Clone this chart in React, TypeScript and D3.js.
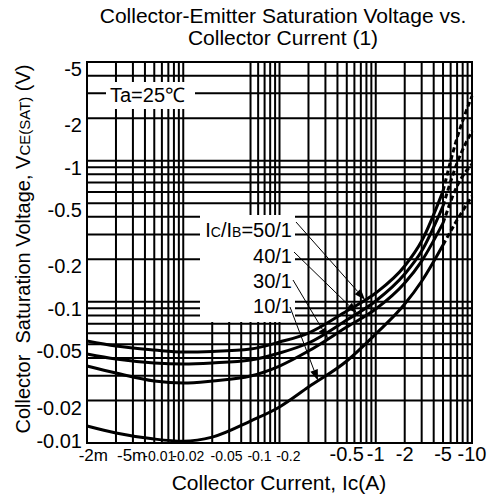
import React, { useEffect, useRef } from "react";
import * as d3 from "d3";

// collector current |Ic| (A) and |Vce(sat)| (V) per Ic/Ib ratio
const currents = [0.001, 0.002, 0.005, 0.01, 0.02, 0.05, 0.1, 0.2, 0.5, 1, 2, 3, 5, 7, 10];
const vce50 = [0.0528, 0.0486, 0.0456, 0.0441, 0.0445, 0.0463, 0.0519, 0.0601, 0.0861, 0.1154, 0.1793, 0.2695, 0.609, 1.45, 2.87];
const vce40 = [0.0427, 0.0393, 0.0369, 0.0363, 0.0369, 0.0387, 0.0434, 0.0511, 0.0743, 0.1013, 0.1573, 0.229, 0.477, 0.962, 1.62];
const vce30 = [0.0351, 0.0313, 0.0275, 0.0266, 0.0275, 0.0298, 0.0351, 0.0448, 0.0663, 0.0889, 0.1359, 0.1945, 0.361, 0.661, 0.946];
const vce10 = [0.0132, 0.01177, 0.01067, 0.0103, 0.011, 0.0143, 0.018, 0.0249, 0.0381, 0.0592, 0.0965, 0.14, 0.253, 0.38, 0.561];
const series = [vce50, vce40, vce30, vce10];
const ratioLabels = ["50/1", "40/1", "30/1", "10/1"];
const arrowCurrents = [0.773, 0.639, 0.319, 0.251];
const dashedFrom = 5; // curves are dashed above this current

const xTicks = [0.002, 0.005, 0.01, 0.02, 0.05, 0.1, 0.2, 0.5, 1, 2, 5, 10];
const xTickLabels = ["-2m", "-5m", "-0.01", "-0.02", "-0.05", "-0.1", "-0.2", "-0.5", "-1", "-2", "-5", "-10"];
const yTicks = [5, 2, 1, 0.5, 0.2, 0.1, 0.05, 0.02, 0.01];
const yTickLabels = ["-5", "-2", "-1", "-0.5", "-0.2", "-0.1", "-0.05", "-0.02", "-0.01"];

const FONT = "'Liberation Sans', Arial, sans-serif";

const App = () => {
  const svgRef = useRef(null);

  useEffect(() => {
    const width = 490,
      height = 498;
    const left = 87,
      right = 472,
      top = 62,
      bottom = 443;

    const svg = d3.select(svgRef.current);
    svg.selectAll("*").remove();
    svg.attr("width", width).attr("height", height);

    const x = d3.scaleLog().domain([0.001, 10]).range([left, right]);
    const y = d3.scaleLog().domain([0.01, 5]).range([bottom, top]);

    // log grid: 1..9 per decade
    const gridX = [];
    [-3, -2, -1, 0].forEach((e) => d3.range(1, 10).forEach((k) => gridX.push(k * Math.pow(10, e))));
    gridX.push(10);
    const gridY = [];
    [-2, -1, 0].forEach((e) => d3.range(1, 10).forEach((k) => gridY.push(k * Math.pow(10, e))));
    const yGrid = gridY.filter((v) => v <= 5.0001);

    // label area with no grid behind it
    const boxBottom = 322;

    const grid = svg.append("g").attr("stroke", "#000").attr("stroke-width", 2);
    grid
      .selectAll("line.v")
      .data(gridX)
      .enter()
      .append("line")
      .attr("x1", (d) => x(d))
      .attr("x2", (d) => x(d))
      .attr("y1", (d) => (d > 0.015 && d < 0.045 ? boxBottom : top))
      .attr("y2", bottom);
    grid
      .selectAll("line.h")
      .data(yGrid)
      .enter()
      .append("line")
      .attr("x1", left)
      .attr("x2", right)
      .attr("y1", (d) => y(d))
      .attr("y2", (d) => y(d));

    // white boxes behind annotations
    svg.append("rect").attr("x", 106).attr("y", 82).attr("width", 89).attr("height", 27).attr("fill", "#fff");
    svg.append("rect").attr("x", 200).attr("y", 215).attr("width", 95).attr("height", boxBottom - 215).attr("fill", "#fff");

    svg
      .append("rect")
      .attr("x", left)
      .attr("y", top)
      .attr("width", right - left)
      .attr("height", bottom - top)
      .attr("fill", "none")
      .attr("stroke", "#000")
      .attr("stroke-width", 2);

    // curves
    const line = d3
      .line()
      .x((d) => x(d[0]))
      .y((d) => y(d[1]))
      .curve(d3.curveMonotoneX);

    series.forEach((vals) => {
      const pts = currents.map((c, i) => [c, vals[i]]);
      svg
        .append("path")
        .datum(pts.filter((d) => d[0] <= dashedFrom))
        .attr("fill", "none")
        .attr("stroke", "#000")
        .attr("stroke-width", 3)
        .attr("d", line);
      svg
        .append("path")
        .datum(pts.filter((d) => d[0] >= dashedFrom))
        .attr("fill", "none")
        .attr("stroke", "#000")
        .attr("stroke-width", 3)
        .attr("stroke-dasharray", "5,3")
        .attr("d", line);
    });

    // value on a curve at a given current (log-log interpolation)
    const valueAt = (vals, c) => {
      const i = Math.max(1, d3.bisectLeft(currents, c));
      const t = (Math.log(c) - Math.log(currents[i - 1])) / (Math.log(currents[i]) - Math.log(currents[i - 1]));
      return Math.exp(Math.log(vals[i - 1]) + t * (Math.log(vals[i]) - Math.log(vals[i - 1])));
    };

    // Ic/IB labels with leaders and arrow heads
    const leaderStarts = [
      [296, 222],
      [294, 252],
      [293, 280],
      [290, 307],
    ];
    const labelBaselines = [237, 263, 288, 313];

    ratioLabels.forEach((lab, i) => {
      const tx = x(arrowCurrents[i]);
      const ty = y(valueAt(series[i], arrowCurrents[i]));
      const [sx, sy] = leaderStarts[i];
      const ang = Math.atan2(ty - sy, tx - sx);
      const len = 11,
        hw = 4;
      const bx = tx - len * Math.cos(ang),
        by = ty - len * Math.sin(ang);
      svg
        .append("line")
        .attr("x1", sx)
        .attr("y1", sy)
        .attr("x2", bx)
        .attr("y2", by)
        .attr("stroke", "#000")
        .attr("stroke-width", 1);
      svg
        .append("polygon")
        .attr(
          "points",
          [
            [tx, ty],
            [bx + hw * Math.sin(ang), by - hw * Math.cos(ang)],
            [bx - hw * Math.sin(ang), by + hw * Math.cos(ang)],
          ]
            .map((p) => p.join(","))
            .join(" ")
        )
        .attr("fill", "#000");

      const t = svg
        .append("text")
        .attr("x", 292)
        .attr("y", labelBaselines[i])
        .attr("text-anchor", "end")
        .attr("font-family", FONT)
        .attr("font-size", 20)
        .attr("fill", "#000");
      if (i === 0) {
        t.append("tspan").text("I");
        t.append("tspan").attr("font-size", 14).text("C");
        t.append("tspan").text("/I");
        t.append("tspan").attr("font-size", 14).text("B");
        t.append("tspan").text("=" + lab);
      } else {
        t.text(lab);
      }
    });

    svg
      .append("text")
      .attr("x", 110)
      .attr("y", 102)
      .attr("font-family", FONT)
      .attr("font-size", 20)
      .text("Ta=25℃");

    // y tick labels (top of text sits on the grid line)
    svg
      .selectAll("text.yt")
      .data(yTicks)
      .enter()
      .append("text")
      .attr("x", left - 5)
      .attr("y", (d) => Math.min(y(d) + 14, bottom + 5))
      .attr("text-anchor", "end")
      .attr("font-family", FONT)
      .attr("font-size", 20)
      .text((d, i) => yTickLabels[i]);

    // x tick labels
    svg
      .selectAll("text.xt")
      .data(xTicks)
      .enter()
      .append("text")
      .attr("x", (d) => (d < 0.5 ? x(d) - 8 : x(d)))
      .attr("y", 461)
      .attr("text-anchor", (d) => (d < 0.5 ? "end" : "middle"))
      .attr("font-family", FONT)
      .attr("font-size", (d) => (d < 0.01 ? 17 : d < 0.5 ? 14 : 20))
      .text((d, i) => xTickLabels[i]);

    // titles
    const title = svg
      .append("text")
      .attr("text-anchor", "middle")
      .attr("font-family", FONT)
      .attr("font-size", 21);
    title.append("tspan").attr("x", 283).attr("y", 23).text("Collector-Emitter Saturation Voltage vs.");
    title.append("tspan").attr("x", 283).attr("y", 45).text("Collector Current (1)");

    svg
      .append("text")
      .attr("x", 279)
      .attr("y", 490)
      .attr("text-anchor", "middle")
      .attr("font-family", FONT)
      .attr("font-size", 21)
      .text("Collector Current, Ic(A)");

    const yl = svg
      .append("text")
      .attr("transform", "translate(30,249) rotate(-90)")
      .attr("text-anchor", "middle")
      .attr("font-family", FONT)
      .attr("font-size", 20)
      .style("white-space", "pre");
    yl.append("tspan").text("Collector  Saturation Voltage, V");
    yl.append("tspan").attr("font-size", 15).text("CE(SAT)");
    yl.append("tspan").text(" (V)");
  }, []);

  return (
    <div>
      <style>{`body{margin:0}`}</style>
      <svg ref={svgRef}></svg>
    </div>
  );
};

export default App;
